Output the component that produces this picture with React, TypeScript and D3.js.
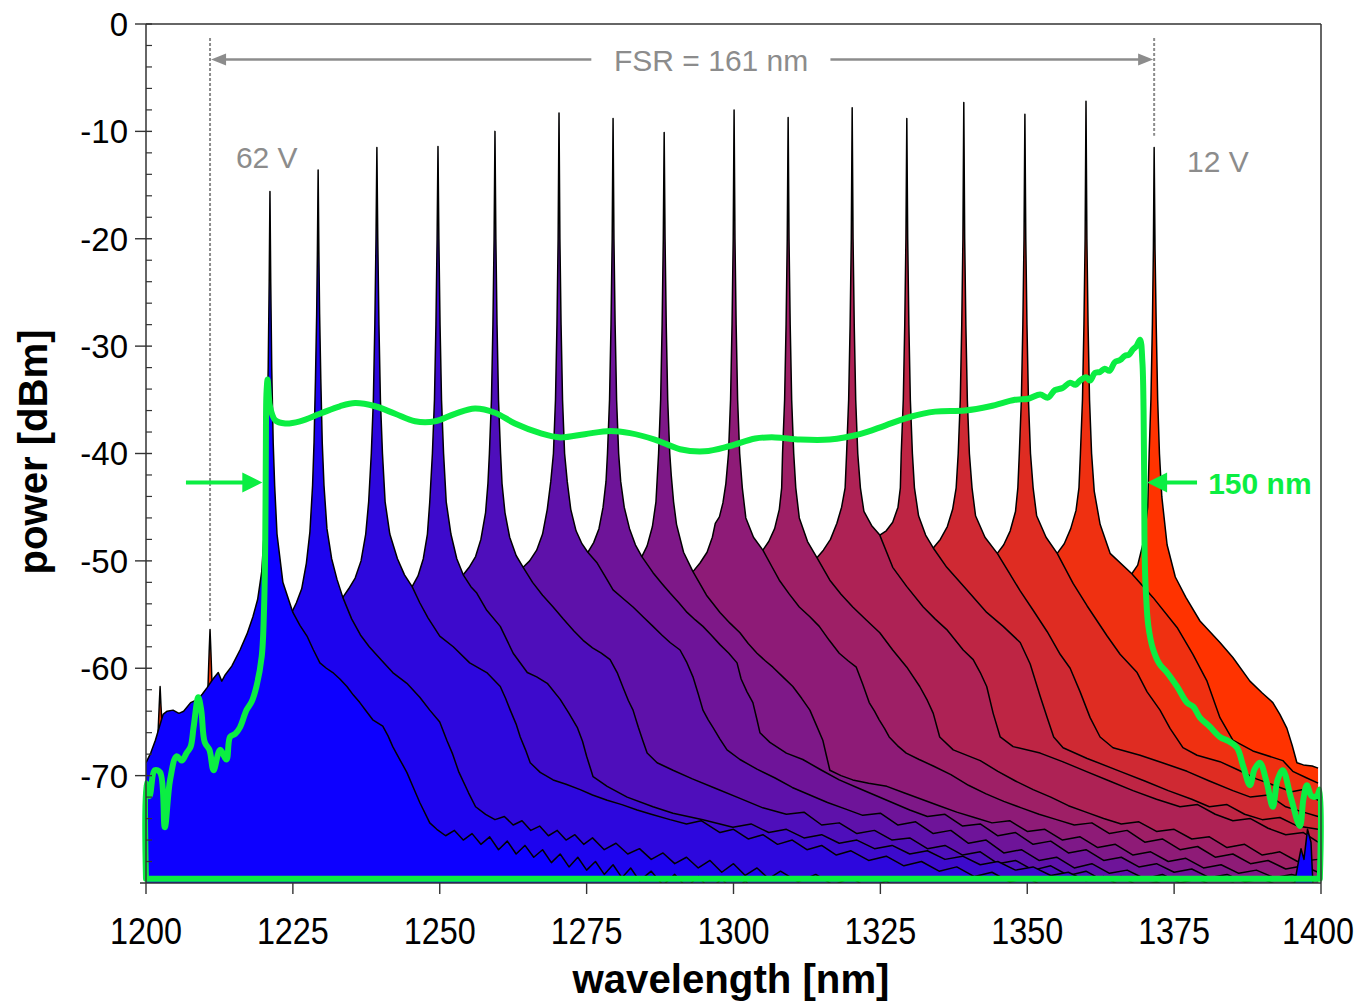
import React from 'react'
import * as d3 from 'd3'

// axis ranges and ticks
const wlRange = [1200, 1400]
const dbRange = [-80, 0]
const wlTicks = [1200, 1225, 1250, 1275, 1300, 1325, 1350, 1375, 1400]
const dbTicks = [0, -10, -20, -30, -40, -50, -60, -70]

// spectra, [wavelength nm, power dBm], from 62 V (blue) to 12 V (red)
const s01 = [
  [1200.0, -68.8], [1200.8, -67.9], [1201.6, -66.7], [1202.9, -64.3], [1203.6, -64.0], [1204.6, -63.9], [1205.6, -64.2], [1206.4, -64.0],
  [1207.6, -63.2], [1208.8, -62.9], [1209.6, -62.4], [1210.4, -61.8], [1211.4, -61.0], [1212.3, -60.4], [1212.9, -61.2], [1213.5, -60.6],
  [1214.6, -59.8], [1216.0, -58.3], [1217.2, -56.8], [1218.2, -55.2], [1219.0, -53.6], [1219.7, -51.0], [1220.1, -47.5], [1220.35, -43],
  [1220.55, -39], [1220.8, -32], [1220.97, -24], [1221.1, -15.6],
  [1221.23, -24], [1221.4, -32], [1221.65, -39], [1221.9, -43], [1222.3, -47.5], [1223.3, -52.0], [1225.0, -54.8], [1226.2, -56.0],
  [1227.4, -57.0], [1228.5, -58.3], [1229.6, -59.5], [1230.7, -60.0], [1231.8, -60.4], [1233.0, -61.0], [1234.2, -61.7], [1235.3, -62.5],
  [1236.4, -63.2], [1237.5, -64.0], [1238.6, -64.8], [1240.3, -65.4], [1241.2, -66.3], [1242.0, -67.3], [1243.2, -68.5], [1244.4, -69.7],
  [1245.5, -71.1], [1246.6, -72.5], [1248.3, -74.4], [1249.5, -75.0], [1251.0, -75.6], [1252.5, -75.1], [1254, -76.0], [1255.5, -75.4],
  [1257, -76.4], [1258.5, -75.7], [1260, -76.9], [1261.5, -76.1], [1263, -77.3], [1264.5, -76.5], [1266, -77.6], [1267.5, -76.9],
  [1269, -78.1], [1270.5, -77.3], [1272, -78.5], [1273.5, -77.6], [1275, -78.8], [1276.5, -78.0], [1278, -79.2], [1279.5, -78.3],
  [1281, -79.5], [1282.5, -78.6], [1284, -79.8], [1286, -78.9], [1288, -80.2], [1290, -79.2], [1292, -80.4], [1294, -79.4],
  [1296, -80.6], [1298, -79.6], [1300, -80.8], [1302, -79.8], [1304, -81.0], [1395.2, -81.0], [1396.0, -78.5], [1396.6, -76.8],
  [1397.1, -77.8], [1397.7, -75.0], [1398.3, -76.2], [1398.7, -81.0],
]
const s02 = [
  [1200, -80.5], [1224.4, -80.5], [1224.9, -54.7], [1225.6, -53.9], [1226.5, -52.6], [1227.3, -50.2], [1227.9, -47.3], [1228.35, -43],
  [1228.6, -39], [1228.85, -33], [1229.05, -27], [1229.18, -21], [1229.3, -13.6],
  [1229.42, -21], [1229.55, -27], [1229.75, -33], [1230.0, -39], [1230.3, -43], [1230.8, -47], [1231.6, -49.8], [1232.5, -51.7],
  [1233.5, -53.4], [1235.0, -55.4], [1236.5, -56.9], [1238.0, -58.0], [1240.0, -59.2], [1242.0, -60.4], [1244.4, -61.4], [1246.6, -62.7],
  [1248.3, -63.9], [1250.0, -65.0], [1251.2, -66.7], [1252.2, -68.0], [1253.2, -69.6], [1254.9, -71.6], [1256.1, -72.9], [1257.8, -73.6],
  [1259.4, -74.1], [1261, -73.8], [1262.5, -74.6], [1264, -74.2], [1265.5, -75.1], [1267, -74.7], [1268.5, -75.6], [1270, -75.1],
  [1271.5, -76.0], [1273, -75.5], [1274.5, -76.4], [1276, -75.8], [1278, -76.9], [1280, -76.3], [1282, -77.3], [1284, -76.8],
  [1286, -77.8], [1288, -77.2], [1290, -78.2], [1292, -77.6], [1294, -78.6], [1296, -77.9], [1298, -79.0], [1300, -78.2],
  [1302, -79.3], [1304, -78.6], [1306, -79.6], [1308, -78.9], [1311, -79.9], [1314, -79.2], [1317, -80.2], [1320, -79.5],
  [1323, -80.5], [1326, -79.8], [1329, -81.0], [1399.5, -81.0],
]
const s03 = [
  [1200, -80.5], [1233.0, -80.5], [1233.5, -53.4], [1234.5, -52.6], [1235.6, -51.6], [1236.6, -50.0], [1237.4, -47.5], [1237.9, -44.5],
  [1238.35, -40], [1238.7, -35], [1238.95, -28], [1239.15, -20], [1239.3, -11.5],
  [1239.45, -20], [1239.65, -28], [1239.9, -35], [1240.25, -40], [1240.7, -44.5], [1241.5, -47.5], [1242.8, -49.8], [1244.0, -51.3],
  [1245.3, -52.4], [1246.6, -53.9], [1248.0, -55.3], [1250.0, -57.0], [1252.3, -58.0], [1255.1, -59.5], [1258.0, -60.4], [1260.3, -61.7],
  [1261.2, -62.8], [1262.0, -63.9], [1263.0, -65.2], [1263.7, -66.4], [1264.6, -67.6], [1265.4, -68.8], [1267.1, -69.7], [1269.3, -70.4],
  [1271.5, -70.8], [1273.9, -71.3], [1276, -71.8], [1278.5, -72.3], [1281, -72.7], [1283.6, -73.2], [1286, -73.6], [1289.2, -74.1],
  [1292, -74.5], [1294.5, -74.2], [1297.7, -75.3], [1300, -75.0], [1302.5, -75.9], [1305, -75.5], [1307.5, -76.4], [1310, -76.0],
  [1312.5, -76.9], [1315, -76.5], [1317.5, -77.4], [1320, -77.0], [1323, -77.9], [1326, -77.5], [1329, -78.4], [1332, -78.0],
  [1335, -78.9], [1338, -78.5], [1341, -79.4], [1344, -79.0], [1347, -79.9], [1350, -79.5], [1353, -80.4], [1356, -81], [1399.5, -81],
]
const s04 = [
  [1200, -80.5], [1244.8, -80.5], [1245.3, -52.4], [1246.3, -51.4], [1247.2, -49.8], [1247.9, -47.5], [1248.3, -44.5], [1248.75, -40],
  [1249.1, -35], [1249.35, -28], [1249.55, -20], [1249.7, -11.4],
  [1249.85, -20], [1250.05, -28], [1250.3, -35], [1250.65, -40], [1251.1, -44.5], [1251.9, -47.5], [1252.9, -49.8], [1254.0, -51.3],
  [1255.3, -52.4], [1256.3, -53.0], [1258.0, -54.6], [1260.3, -56.1], [1262.5, -58.6], [1264.9, -60.4], [1266.5, -60.8], [1268.3, -61.4],
  [1270.5, -62.9], [1272.0, -64.2], [1273.4, -65.5], [1274.3, -66.8], [1275.0, -68.2], [1276.1, -70.1], [1278.5, -71.0], [1281.9, -72.0],
  [1286.3, -72.9], [1289.7, -73.5], [1294.8, -74.1], [1299.9, -74.8], [1303, -74.5], [1306, -75.3], [1309, -75.0], [1312, -75.8],
  [1315, -75.5], [1318, -76.3], [1321, -76.0], [1324, -76.8], [1327, -76.5], [1330, -77.3], [1333, -77.0], [1336, -77.8],
  [1339, -77.5], [1342, -78.3], [1345, -78.0], [1348, -78.8], [1351, -78.5], [1354, -79.3], [1357, -79.0], [1360, -79.8],
  [1363, -79.4], [1366, -80.3], [1369, -81], [1399.5, -81],
]
const s05 = [
  [1200, -80.5], [1253.5, -80.5], [1254.0, -51.3], [1255.0, -50.6], [1256.1, -49.6], [1257.0, -48.0], [1257.8, -45.5], [1258.2, -42.8],
  [1258.45, -40], [1258.8, -35], [1259.05, -28], [1259.25, -20], [1259.4, -10.0],
  [1259.55, -20], [1259.75, -28], [1260.0, -35], [1260.35, -40], [1260.6, -42.8], [1261.1, -45.5], [1261.9, -47.8], [1263.0, -49.5],
  [1264.2, -50.6], [1265.8, -52.0], [1267.5, -53.2], [1269.3, -54.3], [1271.0, -55.4], [1272.8, -56.5], [1274.4, -57.4], [1276.0, -58.1],
  [1277.5, -58.6], [1279.0, -59.2], [1280.2, -60.4], [1281.2, -61.8], [1282.1, -63.0], [1282.9, -63.9], [1283.8, -65.5], [1284.6, -66.8],
  [1285.3, -67.9], [1287, -68.8], [1289.7, -69.5], [1293, -70.3], [1297, -71.2], [1301, -72.1], [1305, -73.0], [1309, -73.6],
  [1312, -73.4], [1315, -74.6], [1318, -74.4], [1321, -75.4], [1324, -75.1], [1327, -76.0], [1330, -75.8], [1333, -76.8],
  [1336, -76.5], [1339, -77.4], [1342, -77.1], [1345, -78.2], [1348, -77.9], [1351, -78.8], [1354, -78.4], [1357, -79.3],
  [1360, -78.9], [1363, -79.8], [1366, -79.4], [1369, -80.3], [1372, -79.9], [1375, -80.6], [1378, -81], [1399.5, -81],
]
const s06 = [
  [1200, -80.5], [1263.7, -80.5], [1264.2, -50.6], [1265.3, -50.0], [1266.5, -49.0], [1267.5, -47.5], [1268.3, -45.2], [1268.9, -42.6],
  [1269.35, -40], [1269.7, -35], [1269.95, -28], [1270.15, -20], [1270.3, -8.3],
  [1270.45, -20], [1270.65, -28], [1270.9, -35], [1271.25, -40], [1271.7, -42.6], [1272.3, -45.2], [1273.2, -47.2], [1274.2, -48.4],
  [1275.2, -49.2], [1276.8, -50.2], [1278.2, -51.5], [1279.5, -52.7], [1281.2, -53.5], [1282.9, -54.3], [1284.6, -55.2], [1286.3, -56.1],
  [1287.8, -56.9], [1289.2, -57.6], [1290.9, -58.3], [1292.0, -59.4], [1293.1, -60.8], [1294.0, -62.4], [1294.8, -63.9], [1295.7, -64.8],
  [1296.5, -65.5], [1297.7, -66.6], [1298.9, -67.6], [1301.1, -68.5], [1304, -69.4], [1307, -70.2], [1310, -71.1], [1313, -71.8],
  [1316, -72.5], [1319, -73.1], [1322, -73.7], [1325, -73.5], [1328, -74.6], [1331, -74.3], [1334, -75.4], [1337, -75.1],
  [1340, -76.3], [1343, -76.0], [1346, -77.2], [1349, -76.9], [1352, -77.9], [1355, -77.6], [1358, -78.6], [1361, -78.2],
  [1364, -79.1], [1367, -78.8], [1370, -79.6], [1373, -79.2], [1376, -80.0], [1379, -79.6], [1382, -80.4], [1385, -80.0],
  [1388, -80.7], [1391, -81], [1399.5, -81],
]
const s07 = [
  [1200, -80.5], [1274.7, -80.5], [1275.2, -49.2], [1276.2, -48.3], [1277.1, -47.0], [1277.8, -45.0], [1278.3, -42.6], [1278.55, -40],
  [1278.9, -35], [1279.15, -28], [1279.35, -20], [1279.5, -8.8],
  [1279.65, -20], [1279.85, -28], [1280.1, -35], [1280.45, -40], [1280.8, -42.6], [1281.4, -45.0], [1282.3, -47.0], [1283.3, -48.5],
  [1284.4, -49.6], [1286.3, -51.1], [1287.8, -52.1], [1289.2, -53.0], [1290.7, -53.9], [1292.1, -54.8], [1293.5, -55.5], [1294.8, -56.1],
  [1296.2, -56.9], [1297.7, -57.8], [1299.2, -58.6], [1300.6, -59.5], [1301.3, -61.0], [1302.3, -62.2], [1303.3, -63.2], [1304.0, -64.8],
  [1304.5, -66.0], [1306.2, -66.9], [1309, -67.9], [1311.8, -68.5], [1315, -69.5], [1318, -70.4], [1321, -71.1], [1324, -71.8],
  [1327, -72.5], [1330, -73.2], [1333, -73.8], [1336, -73.6], [1339, -74.7], [1342, -74.5], [1345, -75.6], [1348, -75.3],
  [1351, -76.4], [1354, -76.1], [1357, -77.2], [1360, -76.9], [1363, -77.9], [1366, -77.6], [1369, -78.5], [1372, -78.2],
  [1375, -79.0], [1378, -78.7], [1381, -79.5], [1384, -79.2], [1387, -79.9], [1390, -79.6], [1393, -80.3], [1396, -79.9], [1399.5, -80.4],
]
const s08 = [
  [1200, -80.5], [1283.9, -80.5], [1284.4, -49.6], [1285.3, -48.6], [1286.2, -46.8], [1286.8, -44.5], [1287.05, -42], [1287.25, -40],
  [1287.6, -35], [1287.85, -28], [1288.05, -20], [1288.2, -10.1],
  [1288.35, -20], [1288.55, -28], [1288.8, -35], [1289.15, -40], [1289.4, -42], [1289.8, -44.5], [1290.3, -46.6], [1291.5, -49.2],
  [1293.1, -51.0], [1295.4, -53.2], [1297.7, -54.8], [1299.4, -55.8], [1301.1, -56.7], [1302.5, -57.7], [1304.0, -58.6], [1305.4, -59.3],
  [1306.7, -59.9], [1308.4, -60.8], [1310.1, -61.7], [1311.6, -62.8], [1313.0, -63.9], [1314.1, -65.3], [1315.2, -66.7], [1315.8, -68.1],
  [1316.4, -69.5], [1318.3, -70.0], [1320.3, -70.4], [1323, -70.7], [1326.1, -71.0], [1329, -71.6], [1332, -72.2], [1335, -72.8],
  [1338, -73.4], [1341, -73.9], [1344, -74.4], [1347, -74.2], [1350, -75.2], [1353, -75.0], [1356, -76.0], [1359, -75.7],
  [1362, -76.7], [1365, -76.4], [1368, -77.4], [1371, -77.1], [1374, -78.0], [1377, -77.7], [1380, -78.6], [1383, -78.3],
  [1386, -79.1], [1389, -78.8], [1392, -79.5], [1395, -79.2], [1399.5, -79.8],
]
const s09 = [
  [1200, -80.5], [1292.6, -80.5], [1293.1, -51.0], [1294.3, -50.2], [1295.5, -49.2], [1296.4, -47.8], [1296.9, -46.5], [1297.6, -45.9],
  [1298.2, -44.6], [1298.7, -42.8], [1299.15, -40], [1299.5, -35], [1299.75, -28], [1299.95, -20], [1300.1, -8.0],
  [1300.25, -20], [1300.45, -28], [1300.7, -35], [1301.05, -40], [1301.5, -43.2], [1302.1, -46.0], [1303.4, -47.8], [1305.0, -49.0],
  [1306.5, -50.5], [1307.8, -51.8], [1309.5, -53.1], [1311.2, -54.3], [1313.0, -55.2], [1314.6, -56.1], [1316.3, -57.4], [1318.0, -58.6],
  [1319.5, -59.3], [1320.9, -59.9], [1322.0, -61.5], [1323.1, -63.2], [1324.0, -64.0], [1324.8, -64.8], [1325.7, -65.6], [1326.5, -66.4],
  [1327.9, -67.2], [1329.4, -67.9], [1331.6, -68.5], [1334, -69.1], [1337, -69.9], [1340, -70.9], [1343, -71.7], [1346, -72.4],
  [1349, -73.0], [1352, -73.6], [1355, -74.1], [1358, -74.6], [1361, -74.4], [1364, -75.4], [1367, -75.1], [1370, -76.2],
  [1373, -75.9], [1376, -76.9], [1379, -76.6], [1382, -77.6], [1385, -77.3], [1388, -78.2], [1391, -77.9], [1394, -78.7],
  [1397, -78.4], [1399.5, -79.0],
]
const s10 = [
  [1200, -80.5], [1304.5, -80.5], [1305.0, -49.0], [1306.0, -48.2], [1307.0, -47.0], [1307.8, -45.2], [1308.2, -43.2], [1308.35, -40],
  [1308.7, -35], [1308.95, -28], [1309.15, -20], [1309.3, -8.7],
  [1309.45, -20], [1309.65, -28], [1309.9, -35], [1310.25, -40], [1310.6, -43.2], [1311.2, -46.0], [1312.6, -48.2], [1314.2, -49.7],
  [1316.4, -51.8], [1318.3, -53.1], [1320.3, -54.3], [1322.6, -55.5], [1324.9, -56.7], [1327.1, -58.3], [1329.5, -59.9], [1331.7, -61.7],
  [1333.0, -63.0], [1334.0, -64.2], [1335.1, -66.4], [1337.4, -67.6], [1342, -68.6], [1345, -69.6], [1348, -70.5], [1351, -71.3],
  [1354, -72.0], [1357, -72.8], [1360, -73.4], [1363, -74.0], [1366, -74.5], [1369, -74.3], [1372, -75.2], [1375, -75.0],
  [1378, -75.9], [1381, -75.7], [1384, -76.7], [1387, -76.4], [1390, -77.4], [1393, -77.1], [1396, -78.0], [1399.5, -77.8],
]
const s11 = [
  [1200, -80.5], [1313.7, -80.5], [1314.2, -49.7], [1315.3, -49.0], [1316.5, -48.0], [1317.6, -46.5], [1318.4, -45.0], [1319.0, -43.2],
  [1319.25, -40], [1319.6, -35], [1319.85, -28], [1320.05, -20], [1320.2, -7.8],
  [1320.35, -20], [1320.55, -28], [1320.8, -35], [1321.15, -40], [1321.6, -43.2], [1322.2, -45.4], [1323.5, -46.7], [1324.9, -47.6],
  [1327.1, -50.6], [1329.5, -52.4], [1332.3, -54.3], [1334.3, -55.4], [1336.3, -56.4], [1339.1, -58.3], [1340.8, -59.2], [1342.0, -60.4],
  [1343.1, -61.7], [1344.2, -64.2], [1345.4, -66.4], [1347.6, -67.3], [1352.2, -67.9], [1356, -68.7], [1360, -69.6], [1364, -70.5],
  [1368, -71.4], [1372, -72.2], [1376, -72.9], [1379, -72.7], [1382, -73.6], [1385, -74.2], [1388, -74.0], [1391, -74.9],
  [1394, -75.5], [1397, -75.3], [1399.5, -76.2],
]
const s12 = [
  [1200, -80.5], [1324.4, -80.5], [1324.9, -47.6], [1326.0, -47.2], [1327.1, -46.4], [1328.0, -45.0], [1328.4, -43.2], [1328.55, -40],
  [1328.9, -35], [1329.15, -28], [1329.35, -20], [1329.5, -8.8],
  [1329.65, -20], [1329.85, -28], [1330.1, -35], [1330.45, -40], [1330.8, -43.2], [1331.5, -45.8], [1332.7, -47.6], [1334.0, -48.8],
  [1336.3, -50.6], [1339.7, -52.7], [1343.1, -54.8], [1345.9, -56.1], [1348.8, -57.6], [1350.5, -59.6], [1352.2, -62.6], [1353.4, -64.6],
  [1354.5, -66.4], [1356.1, -67.4], [1360.2, -68.4], [1365.8, -69.6], [1370, -70.5], [1374, -71.4], [1378, -72.2], [1381, -72.9],
  [1384, -72.7], [1387, -73.6], [1390, -74.1], [1393, -73.9], [1396, -74.7], [1399.5, -75.0],
]
const s13 = [
  [1200, -80.5], [1333.5, -80.5], [1334.0, -48.8], [1335.2, -48.0], [1336.4, -46.8], [1337.3, -45.2], [1337.9, -43.2], [1338.25, -40],
  [1338.6, -35], [1338.85, -28], [1339.05, -20], [1339.2, -7.3],
  [1339.35, -20], [1339.55, -28], [1339.8, -35], [1340.15, -40], [1340.6, -43.2], [1341.2, -45.8], [1342.8, -47.8], [1344.9, -49.3],
  [1346.8, -51.0], [1348.8, -52.8], [1351.0, -54.6], [1353.4, -56.6], [1355.6, -58.7], [1357.3, -60.0], [1359.0, -62.2], [1360.7, -64.6],
  [1362.4, -66.4], [1364.6, -67.4], [1369.2, -68.1], [1373, -68.8], [1377.2, -69.6], [1381, -70.5], [1385, -71.4], [1388, -72.0],
  [1391, -71.8], [1394, -72.9], [1397, -73.4], [1399.5, -73.8],
]
const s14 = [
  [1200, -80.5], [1344.4, -80.5], [1344.9, -49.3], [1346.0, -48.5], [1347.1, -47.2], [1348.0, -45.4], [1348.4, -43.2], [1348.65, -40],
  [1349.0, -35], [1349.25, -28], [1349.45, -20], [1349.6, -8.4],
  [1349.75, -20], [1349.95, -28], [1350.2, -35], [1350.55, -40], [1351.0, -43.2], [1351.6, -45.8], [1353.2, -47.8], [1355.1, -49.3],
  [1357.8, -52.1], [1360.2, -54.2], [1363.6, -57.0], [1365.8, -58.7], [1368.7, -60.4], [1370.4, -62.2], [1372.6, -63.9], [1374.3, -65.6],
  [1376.5, -67.4], [1378.9, -68.1], [1382.8, -68.7], [1386, -69.5], [1389, -70.3], [1392, -70.9], [1395, -71.5], [1397, -71.3], [1399.5, -72.3],
]
const s15 = [
  [1200, -80.5], [1354.6, -80.5], [1355.1, -49.3], [1356.3, -48.4], [1357.4, -47.0], [1358.3, -45.3], [1358.8, -43.2], [1359.05, -40],
  [1359.4, -35], [1359.65, -28], [1359.85, -20], [1360.0, -7.2],
  [1360.15, -20], [1360.35, -28], [1360.6, -35], [1360.95, -40], [1361.4, -43.5], [1362.4, -46.6], [1364.1, -49.3], [1367.8, -51.2],
  [1371.4, -53.4], [1375.5, -56.2], [1378.2, -58.7], [1380.6, -61.2], [1382.8, -64.6], [1385.0, -66.7], [1388.4, -67.7], [1391.8, -68.3],
  [1393.5, -68.6], [1395.2, -69.6], [1397.5, -70.2], [1399.5, -70.7],
]
const s16 = [
  [1200, -80.5], [1201.8, -80.5], [1202.05, -66], [1202.25, -63.5], [1202.4, -61.7], [1202.55, -63.5], [1202.8, -66], [1203.1, -80.5],
  [1210.2, -80.5], [1210.5, -62.5], [1210.75, -58.5], [1210.9, -56.4], [1211.05, -58.5], [1211.3, -62.5], [1211.6, -80.5],
  [1367.3, -80.5], [1367.8, -51.2], [1368.8, -50.4], [1369.8, -48.2], [1370.5, -45], [1370.75, -40], [1371.05, -35], [1371.3, -28],
  [1371.47, -21], [1371.6, -11.5],
  [1371.75, -21], [1371.95, -28], [1372.2, -35], [1372.5, -40], [1372.9, -44], [1373.8, -48.5], [1375.2, -51.5], [1377.0, -53.4],
  [1379.4, -55.6], [1382.8, -57.6], [1385.0, -59.0], [1387.9, -61.2], [1390, -62.3], [1391.8, -63.2], [1393, -64.3], [1394.2, -65.6],
  [1395.1, -67.2], [1395.9, -68.8], [1397, -69.0], [1398.5, -69.1], [1399.5, -69.3],
]
const spectra = [s01, s02, s03, s04, s05, s06, s07, s08, s09, s10, s11, s12, s13, s14, s15, s16]

// broadband (green) trace
const greenTrace = [
  [1200.0, -79.6], [1200.0, -70.7], [1200.6, -71.9], [1201.5, -69.5], [1202.4, -69.7], [1203.2, -74.8], [1204.1, -70.4], [1205.2, -68.2],
  [1206.1, -68.6], [1206.9, -67.9], [1207.6, -67.3], [1208.1, -65.5], [1208.9, -62.7], [1209.4, -63.9], [1210.0, -66.9], [1210.8, -67.6],
  [1211.5, -69.5], [1212.6, -67.6], [1213.7, -68.5], [1214.3, -66.4], [1215.2, -66.1], [1216.0, -65.5], [1217.1, -63.9], [1218.0, -63.1],
  [1218.8, -61.7], [1219.7, -58.9], [1220.1, -54.3], [1220.3, -48.0], [1220.4, -39.7], [1220.5, -34.5], [1220.7, -33.1], [1220.9, -34.6],
  [1221.1, -35.6], [1222.0, -36.9], [1223.7, -37.2], [1226.2, -37.0], [1229.6, -36.3], [1233.0, -35.6], [1235.6, -35.3], [1239.0, -35.6],
  [1242.4, -36.3], [1245.8, -37.0], [1249.2, -37.0], [1252.6, -36.3], [1256.0, -35.8], [1259.4, -36.2], [1262.8, -37.2], [1267.1, -38.1],
  [1270.5, -38.5], [1274.7, -38.2], [1279.0, -37.9], [1282.4, -38.1], [1286.6, -38.7], [1290.9, -39.6], [1295.1, -39.8], [1299.4, -39.3],
  [1303.7, -38.6], [1307.1, -38.5], [1311.3, -38.7], [1316.4, -38.7], [1321.5, -38.2], [1325.8, -37.4], [1330.0, -36.6], [1334.3, -36.1],
  [1339.4, -36.0], [1343.7, -35.6], [1347.9, -35.0], [1350.2, -34.9], [1352.2, -34.5], [1353.5, -34.8], [1354.7, -34.1], [1356.0, -33.9],
  [1357.3, -33.4], [1358.2, -33.6], [1359.0, -33.2], [1360.0, -32.9], [1360.7, -33.2], [1361.5, -32.5], [1362.4, -32.4], [1363.2, -32.1],
  [1364.0, -32.3], [1364.9, -31.5], [1365.8, -31.3], [1366.6, -30.9], [1367.3, -30.8], [1368.0, -30.3], [1368.6, -30.0], [1369.2, -29.4],
  [1369.6, -31.5], [1369.8, -36.0], [1369.9, -42.0], [1370.0, -49.9], [1370.2, -53.0], [1370.6, -56.0], [1371.4, -58.2], [1372.5, -59.6],
  [1373.8, -60.4], [1375.5, -61.7], [1377.2, -63.2], [1378.3, -63.6], [1379.4, -64.6], [1381.0, -65.4], [1382.8, -66.4], [1384.3, -66.8],
  [1385.7, -67.4], [1386.8, -69.2], [1387.9, -70.9], [1388.7, -69.4], [1389.6, -68.8], [1390.7, -70.5], [1391.8, -72.9], [1392.6, -70.4],
  [1393.5, -69.5], [1394.9, -72.1], [1396.4, -74.7], [1397.0, -72.2], [1397.6, -70.9], [1398.4, -71.9], [1399.3, -71.9], [1399.8, -71.3],
  [1399.8, -79.6],
]

// annotations (data units)
const fsrEnds = [1210.9, 1371.6]
const fsrArrowDb = -3.3
const fsrGap = [1275.8, 1316.5]
const fsrLabel = { text: 'FSR = 161 nm', wl: 1296.2, db: -4.4 }
const dashTopDb = -1.3
const dashBottomDb = [-55.7, -10.4]
const voltageLabels = [
  { text: '62 V', wl: 1215.3, db: -13.4 },
  { text: '12 V', wl: 1377.2, db: -13.8 },
]
const widthArrowDb = -42.7
const widthArrowLeft = [1206.8, 1219.8]
const widthArrowRight = [1378.9, 1370.4]
const widthLabel = { text: '150 nm', wl: 1380.8, db: -43.8 }

const FONT = "'Liberation Sans', Arial, Helvetica, sans-serif"
const GREEN = '#0bee42'
const GREY = '#8c8c8c'

export default function App() {
  const left = 146, right = 1321, top = 24, bottom = 883
  const x = d3.scaleLinear().domain(wlRange).range([left, right])
  const y = d3.scaleLinear().domain(dbRange).range([bottom, top])
  const colour = d3.scaleLinear<string>()
    .domain([0, spectra.length - 1])
    .range(['#0d00ff', '#ff3300'])
    .interpolate(d3.interpolateRgb)

  const area = d3.area<number[]>().x(d => x(d[0])).y0(y(-80)).y1(d => y(d[1]))
  const line = d3.line<number[]>().x(d => x(d[0])).y(d => y(d[1]))
  const greenLine = d3.line<number[]>().x(d => x(d[0])).y(d => y(d[1])).curve(d3.curveCatmullRom.alpha(0.5))

  const minorTicks = d3.range(0, -80, -2).filter(v => v % 10 !== 0)
  const order = spectra.map((_, i) => i).reverse()

  const fy = y(fsrArrowDb)
  const [fl, fr] = fsrEnds.map(v => x(v))
  const gy = y(widthArrowDb)
  const gl = widthArrowLeft.map(v => x(v))
  const gr = widthArrowRight.map(v => x(v))

  return (
    <div style={{ position: 'absolute', left: 0, top: 0 }}>
      <svg width={1361} height={1003} style={{ display: 'block', background: '#fff' }}>
        <defs>
          <clipPath id="plot">
            <rect x={left} y={top} width={right - left} height={bottom - top} />
          </clipPath>
        </defs>

        <g clipPath="url(#plot)">
          {order.map(i => (
            <g key={i}>
              <path d={area(spectra[i]) || ''} fill={colour(i)} stroke="none" />
              <path d={line(spectra[i]) || ''} fill="none" stroke="#000" strokeWidth={1.5} strokeLinejoin="round" />
            </g>
          ))}
        </g>

        {/* broadband trace */}
        <path d={(greenLine(greenTrace) || '') + 'Z'} fill="none" stroke={GREEN} strokeWidth={6} strokeLinejoin="round" />

        {/* FSR annotation */}
        <line x1={fl} x2={fl} y1={y(dashTopDb)} y2={y(dashBottomDb[0])} stroke={GREY} strokeWidth={2} strokeDasharray="3 2" />
        <line x1={fr} x2={fr} y1={y(dashTopDb)} y2={y(dashBottomDb[1])} stroke={GREY} strokeWidth={2} strokeDasharray="3 2" />
        <line x1={fl + 10} x2={x(fsrGap[0])} y1={fy} y2={fy} stroke={GREY} strokeWidth={2.5} />
        <line x1={x(fsrGap[1])} x2={fr - 10} y1={fy} y2={fy} stroke={GREY} strokeWidth={2.5} />
        <polygon points={`${fl + 1},${fy} ${fl + 16},${fy - 6} ${fl + 16},${fy + 6}`} fill={GREY} />
        <polygon points={`${fr - 1},${fy} ${fr - 16},${fy - 6} ${fr - 16},${fy + 6}`} fill={GREY} />
        <text x={x(fsrLabel.wl)} y={y(fsrLabel.db)} textAnchor="middle" fontFamily={FONT} fontSize={30} fill={GREY}>
          {fsrLabel.text}
        </text>
        {voltageLabels.map(v => (
          <text key={v.text} x={x(v.wl)} y={y(v.db)} fontFamily={FONT} fontSize={30} fill={GREY}>{v.text}</text>
        ))}

        {/* 150 nm width arrows */}
        <line x1={gl[0]} x2={gl[1] - 16} y1={gy} y2={gy} stroke={GREEN} strokeWidth={4} />
        <polygon points={`${gl[1]},${gy} ${gl[1] - 20},${gy - 10} ${gl[1] - 20},${gy + 10}`} fill={GREEN} />
        <line x1={gr[0]} x2={gr[1] + 16} y1={gy} y2={gy} stroke={GREEN} strokeWidth={4} />
        <polygon points={`${gr[1]},${gy} ${gr[1] + 20},${gy - 10} ${gr[1] + 20},${gy + 10}`} fill={GREEN} />
        <text x={x(widthLabel.wl)} y={y(widthLabel.db)} fontFamily={FONT} fontSize={30} fontWeight="bold" fill={GREEN}>
          {widthLabel.text}
        </text>

        {/* frame and axes */}
        <line x1={left} x2={right} y1={top} y2={top} stroke="#333" strokeWidth={1.5} />
        <line x1={right} x2={right} y1={top} y2={bottom} stroke="#333" strokeWidth={1.5} />
        <line x1={left} x2={left} y1={top} y2={bottom} stroke="#333" strokeWidth={1.5} />
        <line x1={left - 6} x2={right} y1={bottom} y2={bottom} stroke="#333" strokeWidth={1.5} />

        {minorTicks.map(v => (
          <line key={'m' + v} x1={left} x2={left + 6} y1={y(v)} y2={y(v)} stroke="#333" strokeWidth={1.2} />
        ))}
        {dbTicks.map(v => (
          <g key={'y' + v}>
            <line x1={left - 11} x2={left + 6} y1={y(v)} y2={y(v)} stroke="#333" strokeWidth={1.4} />
            <text x={left - 18} y={y(v)} dy="0.36em" textAnchor="end" fontFamily={FONT} fontSize={33} fill="#000">
              {v === 0 ? '0' : '-' + Math.abs(v)}
            </text>
          </g>
        ))}
        {wlTicks.map(v => (
          <g key={'x' + v}>
            <line x1={x(v)} x2={x(v)} y1={bottom} y2={bottom + 11} stroke="#333" strokeWidth={1.4} />
            <text x={v === 1400 ? x(v) - 3 : x(v)} y={bottom + 61} textAnchor="middle" fontFamily={FONT} fontSize={36}
              textLength={72} lengthAdjust="spacingAndGlyphs" fill="#000">
              {v}
            </text>
          </g>
        ))}

        <text x={731} y={993} textAnchor="middle" fontFamily={FONT} fontSize={40} fontWeight="bold"
          textLength={317} lengthAdjust="spacingAndGlyphs" fill="#000">
          wavelength [nm]
        </text>
        <text transform="translate(47,452) rotate(-90)" textAnchor="middle" fontFamily={FONT} fontSize={40}
          fontWeight="bold" textLength={245} lengthAdjust="spacingAndGlyphs" fill="#000">
          power [dBm]
        </text>
      </svg>
    </div>
  )
}
